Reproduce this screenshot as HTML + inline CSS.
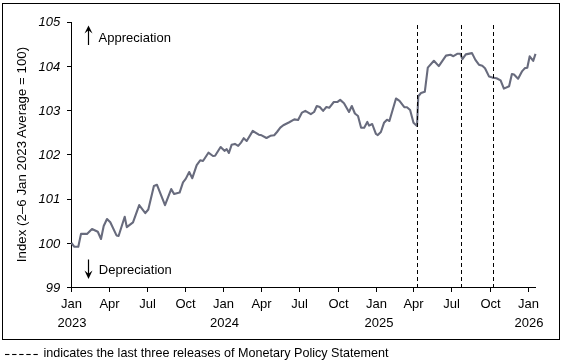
<!DOCTYPE html>
<html><head><meta charset="utf-8"><style>
html,body{margin:0;padding:0;background:#fff;width:562px;height:364px;overflow:hidden}
svg{display:block;will-change:transform}
text{font-family:"Liberation Sans", sans-serif}
</style></head><body>
<svg width="562" height="364" viewBox="0 0 562 364" font-family='"Liberation Sans", sans-serif' font-size="13" fill="#000"><rect x="2.5" y="3.5" width="557" height="336" fill="none" stroke="#000" stroke-width="1"/>
<line x1="71.5" y1="22" x2="71.5" y2="288" stroke="#000" stroke-width="1"/>
<line x1="67" y1="287.5" x2="536" y2="287.5" stroke="#000" stroke-width="1"/>
<line x1="67" y1="22.5" x2="72" y2="22.5" stroke="#000" stroke-width="1"/>
<text x="60.3" y="25.6" text-anchor="end" font-style="italic">105</text>
<line x1="67" y1="66.5" x2="72" y2="66.5" stroke="#000" stroke-width="1"/>
<text x="60.3" y="70.6" text-anchor="end" font-style="italic">104</text>
<line x1="67" y1="110.5" x2="72" y2="110.5" stroke="#000" stroke-width="1"/>
<text x="60.3" y="114.6" text-anchor="end" font-style="italic">103</text>
<line x1="67" y1="154.5" x2="72" y2="154.5" stroke="#000" stroke-width="1"/>
<text x="60.3" y="158.6" text-anchor="end" font-style="italic">102</text>
<line x1="67" y1="199.5" x2="72" y2="199.5" stroke="#000" stroke-width="1"/>
<text x="60.3" y="202.6" text-anchor="end" font-style="italic">101</text>
<line x1="67" y1="243.5" x2="72" y2="243.5" stroke="#000" stroke-width="1"/>
<text x="60.3" y="247.6" text-anchor="end" font-style="italic">100</text>
<line x1="67" y1="287.5" x2="72" y2="287.5" stroke="#000" stroke-width="1"/>
<text x="60.3" y="291.6" text-anchor="end" font-style="italic">99</text>
<line x1="71.5" y1="287" x2="71.5" y2="292" stroke="#000" stroke-width="1"/>
<text x="71.5" y="307.7" text-anchor="middle">Jan</text>
<text x="72.0" y="327.2" text-anchor="middle">2023</text>
<line x1="109.5" y1="287" x2="109.5" y2="292" stroke="#000" stroke-width="1"/>
<text x="109.5" y="307.7" text-anchor="middle">Apr</text>
<line x1="147.5" y1="287" x2="147.5" y2="292" stroke="#000" stroke-width="1"/>
<text x="147.5" y="307.7" text-anchor="middle">Jul</text>
<line x1="185.5" y1="287" x2="185.5" y2="292" stroke="#000" stroke-width="1"/>
<text x="185.5" y="307.7" text-anchor="middle">Oct</text>
<line x1="223.5" y1="287" x2="223.5" y2="292" stroke="#000" stroke-width="1"/>
<text x="223.5" y="307.7" text-anchor="middle">Jan</text>
<text x="224.5" y="327.2" text-anchor="middle">2024</text>
<line x1="261.5" y1="287" x2="261.5" y2="292" stroke="#000" stroke-width="1"/>
<text x="261.5" y="307.7" text-anchor="middle">Apr</text>
<line x1="299.5" y1="287" x2="299.5" y2="292" stroke="#000" stroke-width="1"/>
<text x="299.5" y="307.7" text-anchor="middle">Jul</text>
<line x1="338.5" y1="287" x2="338.5" y2="292" stroke="#000" stroke-width="1"/>
<text x="338.5" y="307.7" text-anchor="middle">Oct</text>
<line x1="376.5" y1="287" x2="376.5" y2="292" stroke="#000" stroke-width="1"/>
<text x="376.5" y="307.7" text-anchor="middle">Jan</text>
<text x="379.0" y="327.2" text-anchor="middle">2025</text>
<line x1="413.5" y1="287" x2="413.5" y2="292" stroke="#000" stroke-width="1"/>
<text x="413.5" y="307.7" text-anchor="middle">Apr</text>
<line x1="451.5" y1="287" x2="451.5" y2="292" stroke="#000" stroke-width="1"/>
<text x="451.5" y="307.7" text-anchor="middle">Jul</text>
<line x1="490.5" y1="287" x2="490.5" y2="292" stroke="#000" stroke-width="1"/>
<text x="490.5" y="307.7" text-anchor="middle">Oct</text>
<line x1="528.5" y1="287" x2="528.5" y2="292" stroke="#000" stroke-width="1"/>
<text x="528.5" y="307.7" text-anchor="middle">Jan</text>
<text x="529.0" y="327.2" text-anchor="middle">2026</text>
<path d="M71.4,242.9 L74.4,246.8 L78.3,246.8 L81.0,233.9 L87.0,233.9 L92.0,229.0 L97.8,231.8 L101.0,239.0 L103.7,226.0 L107.0,219.0 L110.3,222.3 L116.5,235.4 L118.6,236.0 L124.7,216.8 L126.8,227.1 L133.0,222.3 L139.2,205.1 L145.3,213.2 L148.3,209.5 L153.9,186.0 L157.0,184.8 L165.0,205.2 L171.2,189.1 L174.1,194.0 L179.6,192.6 L183.0,182.3 L185.7,178.9 L189.2,172.0 L192.3,178.2 L196.7,165.1 L200.2,160.3 L203.0,161.0 L208.4,152.7 L213.0,156.0 L215.1,155.8 L220.6,147.0 L224.5,150.8 L226.7,149.2 L228.9,153.0 L231.6,144.8 L234.9,143.9 L238.2,145.9 L241.0,142.6 L243.7,138.2 L246.7,141.0 L252.8,130.9 L258.8,134.7 L261.6,135.3 L266.5,138.0 L270.4,135.8 L274.2,135.3 L277.0,132.0 L280.3,127.6 L283.3,125.2 L288.8,122.5 L294.3,119.4 L298.1,120.0 L302.0,112.6 L305.3,110.9 L310.8,114.2 L314.1,112.0 L316.8,106.0 L319.8,107.0 L323.1,110.9 L326.4,107.0 L329.2,107.8 L333.8,102.0 L337.6,101.9 L340.2,99.9 L344.0,103.2 L349.0,112.0 L351.8,106.0 L354.9,113.5 L358.0,116.0 L361.1,127.7 L364.2,127.7 L367.3,121.9 L369.1,125.6 L372.2,124.0 L375.9,133.9 L377.8,135.1 L380.9,132.0 L384.0,122.8 L387.0,119.7 L389.4,121.0 L396.0,98.5 L399.5,100.8 L404.3,107.2 L407.0,107.3 L410.1,110.0 L413.5,122.8 L417.0,126.0 L418.3,96.2 L421.0,93.0 L424.8,91.8 L427.8,67.6 L433.9,60.8 L438.8,66.1 L446.0,55.6 L450.5,54.8 L453.4,56.2 L457.6,53.7 L460.3,53.7 L462.4,59.2 L465.8,54.4 L472.0,53.1 L475.4,59.9 L478.9,64.7 L482.3,65.8 L485.0,68.2 L489.1,76.6 L492.4,77.6 L496.5,78.2 L500.6,80.4 L503.9,88.6 L509.1,86.2 L511.9,74.1 L514.0,74.6 L518.1,78.7 L522.2,71.1 L524.9,68.1 L527.3,67.7 L529.7,56.3 L533.2,60.8 L535.5,53.9" fill="none" stroke="#686b7d" stroke-width="2.1" stroke-linejoin="round"/>
<line x1="417.5" y1="25" x2="417.5" y2="287" stroke="#000" stroke-width="1" stroke-dasharray="4 3"/>
<line x1="461.5" y1="25" x2="461.5" y2="287" stroke="#000" stroke-width="1" stroke-dasharray="4 3"/>
<line x1="493.5" y1="25" x2="493.5" y2="287" stroke="#000" stroke-width="1" stroke-dasharray="4 3"/>
<line x1="88.5" y1="29" x2="88.5" y2="45" stroke="#000" stroke-width="1.2"/>
<path d="M84.5,33.4 L88.5,25.4 L92.5,33.4 L88.5,30.2 Z" fill="#000"/>
<line x1="88.5" y1="259.5" x2="88.5" y2="275" stroke="#000" stroke-width="1.2"/>
<path d="M84.5,270.6 L88.5,279 L92.5,270.6 L88.5,273.8 Z" fill="#000"/>
<text x="98.6" y="41.8">Appreciation</text>
<text x="98.8" y="274">Depreciation</text>
<text transform="translate(26.2,154.5) rotate(-90)" text-anchor="middle" font-size="13.3">Index (2–6 Jan 2023 Average = 100)</text>
<line x1="5.0" y1="354.5" x2="9.4" y2="354.5" stroke="#000" stroke-width="1.1"/>
<line x1="12.1" y1="354.5" x2="16.5" y2="354.5" stroke="#000" stroke-width="1.1"/>
<line x1="19.2" y1="354.5" x2="23.6" y2="354.5" stroke="#000" stroke-width="1.1"/>
<line x1="26.3" y1="354.5" x2="30.7" y2="354.5" stroke="#000" stroke-width="1.1"/>
<line x1="33.4" y1="354.5" x2="37.8" y2="354.5" stroke="#000" stroke-width="1.1"/>
<text x="43.4" y="356.5" font-size="12.6">indicates the last three releases of Monetary Policy Statement</text></svg>
</body></html>
